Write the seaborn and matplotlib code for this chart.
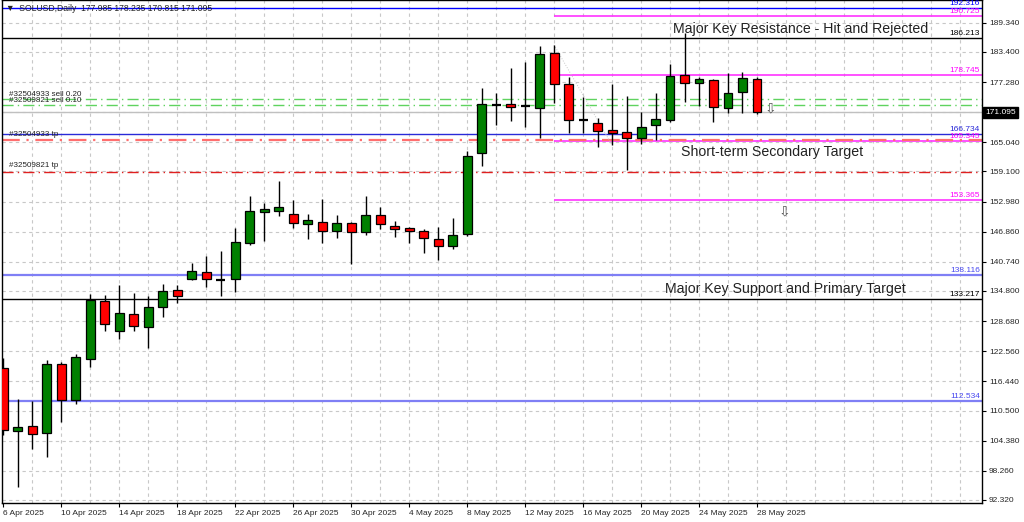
import numpy as np
import pandas as pd
import matplotlib
matplotlib.use("Agg")
import matplotlib.pyplot as plt
import matplotlib.transforms as mtransforms
import seaborn as sns

# --- data (SOLUSD daily) ---
dates = pd.date_range("2025-04-06", "2025-05-28", freq="D")
opens = [119.15, 106.41, 107.36, 105.88, 119.96, 112.65, 120.98, 132.71, 126.67, 130.13,
         127.55, 131.61, 134.95, 137.30, 138.60, 137.10, 137.18, 144.50, 150.92, 151.13,
         150.46, 148.36, 148.77, 146.94, 148.63, 146.86, 150.25, 148.01, 147.55, 147.00,
         145.43, 143.95, 146.33, 162.79, 172.57, 172.75, 172.35, 172.06, 183.24, 176.82,
         169.50, 169.01, 167.59, 167.18, 165.90, 168.48, 169.56, 178.71, 177.14, 177.69,
         171.94, 175.31, 177.985]
highs = [121.18, 112.79, 112.50, 120.78, 120.43, 121.94, 134.13, 133.93, 136.02, 134.46,
         133.85, 136.16, 136.02, 140.56, 141.92, 142.93, 147.55, 154.17, 152.63, 157.16,
         153.30, 150.46, 153.50, 150.25, 148.89, 154.11, 151.94, 149.03, 147.82, 147.47,
         147.75, 149.58, 163.32, 176.01, 175.11, 180.07, 181.41, 184.60, 184.81, 178.24,
         174.18, 169.91, 176.88, 174.44, 171.25, 174.99, 180.88, 187.30, 178.36, 177.84,
         179.05, 179.38, 178.235]
lows = [105.53, 95.02, 102.62, 101.00, 108.11, 111.77, 119.29, 126.67, 125.11, 126.61,
        123.28, 129.46, 132.30, 137.04, 135.55, 133.79, 134.54, 144.22, 145.03, 150.05,
        147.55, 145.37, 144.50, 145.51, 140.23, 146.19, 147.41, 145.72, 144.50, 142.47,
        141.10, 143.34, 145.90, 160.21, 168.61, 169.36, 168.20, 165.96, 173.08, 166.86,
        166.86, 164.13, 164.48, 159.40, 164.62, 165.50, 169.22, 173.28, 172.41, 169.16,
        170.92, 171.05, 170.815]
closes = [106.55, 107.22, 105.74, 119.90, 112.65, 121.45, 132.91, 128.16, 130.39, 127.63,
          131.49, 134.80, 133.85, 138.81, 137.18, 137.10, 144.70, 151.00, 151.41, 151.88,
          148.56, 149.17, 147.06, 148.56, 146.86, 150.31, 148.42, 147.47, 146.94, 145.64,
          143.95, 146.19, 162.24, 172.75, 172.57, 172.27, 172.35, 182.92, 176.94, 169.56,
          169.50, 167.39, 166.92, 165.90, 168.20, 169.70, 178.44, 177.14, 177.84, 172.14,
          175.11, 178.04, 171.095]

# horizontal levels across the whole chart
full_levels = [192.316, 186.213, 166.734, 138.116, 133.217, 112.534]
full_colors = ["#0000ff", "#000000", "#2a2ad8", "#7f7ff5", "#000000", "#7f7ff5"]
full_widths = [1.0, 1.0, 1.0, 1.6, 1.0, 1.6]

# magenta zone lines drawn from 14 May onwards
zone_start = "2025-05-14"
zone_levels = [190.725, 178.745, 165.345, 153.365]

# open orders
sell_levels = [173.83, 172.67]
sell_labels = ["#32504933 sell 0.20", "#32509821 sell 0.10"]
tp_levels = [165.40, 159.05]
tp_labels = ["#32504933 tp", "#32509821 tp"]
tp_colors = ["#ff6e6e", "#e02020"]
bid = 171.095

yticks = [92.32, 98.26, 104.38, 110.50, 116.44, 122.56, 128.68, 134.80, 140.74,
          146.86, 152.98, 159.10, 165.04, 177.28, 183.40, 189.34]

sns.set_style("white")
plt.rcParams["font.family"] = ["Liberation Sans", "DejaVu Sans"]

fig = plt.figure(figsize=(10.24, 5.22), dpi=100)
ax = fig.add_axes([0.002, 0.037, 0.957, 0.963])

x = np.arange(len(dates))
o = np.array(opens)
c = np.array(closes)
xmax = 67.52
ax.set_xlim(-0.07, xmax)
ax.set_ylim(91.77, 193.95)

# grid
grid_kw = dict(color="#c8c8c8", lw=0.8, ls=(0, (3, 3)), zorder=0)
for gy in yticks + [171.16]:
    ax.axhline(gy, **grid_kw)
for gx in range(2, 68, 2):
    ax.axvline(gx, **grid_kw)

# level lines
for lv, col, w in zip(full_levels, full_colors, full_widths):
    ax.axhline(lv, color=col, lw=w, zorder=1)
zi = dates.get_loc(pd.Timestamp(zone_start))
ax.hlines(zone_levels, zi, xmax, color="#ff33ff", lw=1.2, zorder=1)
ax.axhline(bid, color="#c0c0c0", lw=1.0, zorder=1)
for lv in sell_levels:
    ax.axhline(lv, color="#5fd35f", lw=1.0, ls=(0, (8, 3, 1, 3)), zorder=1)
for lv, col, w in zip(tp_levels, tp_colors, [1.6, 1.0]):
    ax.axhline(lv, color=col, lw=w, ls=(0, (8, 3, 1, 3)), zorder=1)

# faint trend line
ax.plot([dates.get_loc(pd.Timestamp("2025-05-14")), dates.get_loc(pd.Timestamp("2025-05-18"))],
        [highs[38], lows[42]], color="#c8c8c8", lw=0.7, ls=":", zorder=1)

# candles
ax.vlines(x, lows, highs, color="black", lw=1.0, zorder=2)
up = c > o
dn = c < o
ax.bar(x[up], (c - o)[up], bottom=o[up], width=0.62, color="#008000",
       edgecolor="black", lw=0.9, zorder=3)
ax.bar(x[dn], (o - c)[dn], bottom=c[dn], width=0.62, color="#ff0000",
       edgecolor="black", lw=0.9, zorder=3)
dj = c == o
ax.hlines(c[dj], x[dj] - 0.31, x[dj] + 0.31, color="black", lw=1.6, zorder=3)

# labels of levels on the right inside the plot
lab_kw = dict(ha="right", va="bottom", fontsize=6, zorder=5)
right_x = xmax - 0.15
for lv, col in zip(full_levels, full_colors):
    ax.text(right_x, lv + 0.15, f"{lv:.3f}", color=col if col != "#7f7ff5" else "#4848f0", **lab_kw)
for lv in zone_levels:
    ax.text(right_x, lv + 0.15, f"{lv:.3f}", color="#ff00ff", **lab_kw)

# order labels
for lv, lab in zip(sell_levels, sell_labels):
    ax.text(0.4, lv + 0.2, lab, fontsize=5.8, color="#222222", va="bottom", zorder=5)
for lv, lab in zip(tp_levels, tp_labels):
    ax.text(0.4, lv + 0.6, lab, fontsize=5.8, color="#222222", va="bottom", zorder=5)

# analyst notes
ax.text(46.2, full_levels[1] + 0.35, "Major Key Resistance - Hit and Rejected",
        fontsize=10.2, color="#222222", va="bottom", zorder=5)
ax.text(46.75, zone_levels[2] - 0.9, "Short-term Secondary Target",
        fontsize=10.2, color="#222222", va="top", zorder=5)
ax.text(45.65, full_levels[4] + 0.5, "Major Key Support and Primary Target",
        fontsize=10.2, color="#222222", va="bottom", zorder=5)
ax.text(52.9, 172.0, "\u21e9", family="DejaVu Sans", fontsize=10, color="#555555",
        ha="center", va="center", zorder=5)
ax.text(53.9, 150.9, "\u21e9", family="DejaVu Sans", fontsize=10, color="#555555",
        ha="center", va="center", zorder=5)

# header
ax.text(0.004, 0.993, "\u25bc  SOLUSD,Daily  177.985 178.235 170.815 171.095",
        transform=ax.transAxes, fontsize=6.2, va="top", ha="left", color="#222222",
        zorder=6)

# axes
ax.yaxis.tick_right()
ax.set_yticks(yticks)
ax.set_yticklabels([f"{v:.3f}" for v in yticks])
xt = list(range(0, len(dates), 4))
ax.set_xticks(xt)
ax.set_xticklabels([f"{dates[i].day} {dates[i]:%b %Y}" for i in xt], ha="left")
ax.tick_params(axis="both", labelsize=6, length=3, width=0.8, color="black",
               direction="out", pad=2)
ax.tick_params(axis="x", bottom=True)
ax.tick_params(axis="y", right=True, left=False)
for sp in ax.spines.values():
    sp.set_color("black")
    sp.set_linewidth(1.0)

trans = mtransforms.blended_transform_factory(ax.transAxes, ax.transData)
ax.text(1.003, bid, f"{bid:.3f}", transform=trans, fontsize=6, color="white",
        va="center", ha="left",
        bbox=dict(boxstyle="square,pad=0.25", fc="black", ec="black"), zorder=6)

fig.savefig("out.png", dpi=100)
